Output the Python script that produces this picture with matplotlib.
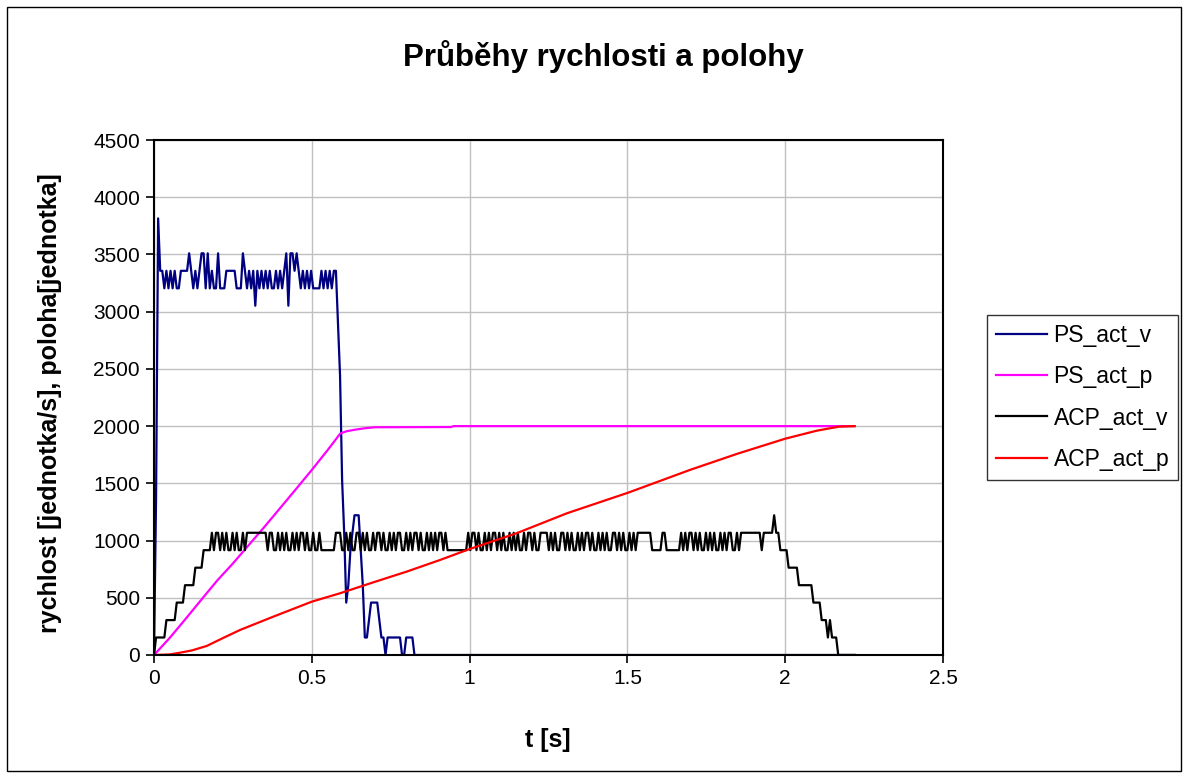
import numpy as np
import matplotlib
matplotlib.use("Agg")
import matplotlib.pyplot as plt
from matplotlib.patches import Rectangle

plt.rcParams['font.family'] = ['Liberation Sans', 'DejaVu Sans']

# ---------------- data ----------------
SAMPLE_DT = 0.00655  # s, sampling period of the velocity records

# PS_act_v  [jednotka/s], one value per sample
PS_ACT_V = [
    0, 1373, 3815, 3357, 3357, 3204, 3357, 3204, 3357, 3204,
    3357, 3204, 3204, 3357, 3357, 3357, 3357, 3510, 3357, 3204,
    3357, 3204, 3357, 3510, 3510, 3204, 3510, 3204, 3357, 3204,
    3204, 3510, 3204, 3204, 3204, 3357, 3357, 3357, 3357, 3357,
    3204, 3204, 3204, 3510, 3357, 3204, 3357, 3204, 3357, 3052,
    3357, 3204, 3357, 3204, 3357, 3204, 3357, 3204, 3204, 3357,
    3204, 3357, 3204, 3357, 3510, 3052, 3510, 3510, 3357, 3510,
    3357, 3204, 3357, 3204, 3357, 3204, 3357, 3204, 3204, 3204,
    3204, 3357, 3204, 3357, 3204, 3357, 3204, 3357, 3357, 2899,
    2442, 1526, 1068, 458, 610, 916, 1068, 1221, 1221, 1221,
    916, 610, 153, 153, 305, 458, 458, 458, 458, 305,
    153, 153, 0, 153, 153, 153, 153, 153, 153, 153,
    0, 0, 153, 153, 153, 153, 0, 0, 0, 0,
] + [0] * 210

# ACP_act_v  [jednotka/s], one value per sample
ACP_ACT_V = [
    0, 153, 153, 153, 153, 153, 305, 305, 305, 305,
    305, 458, 458, 458, 458, 610, 610, 610, 610, 610,
    763, 763, 763, 763, 916, 916, 916, 916,
    1068, 916, 1068, 1068, 916, 1068, 916, 1068, 916, 916,
    1068, 916, 1068, 916, 916, 1068, 916, 1068, 1068,
    1068, 1068, 1068, 1068, 1068, 1068, 1068, 1068,
    916, 1068, 1068, 916, 916, 1068, 916, 1068, 916, 1068,
    916, 916, 1068, 916, 1068, 916, 1068, 1068, 916, 1068,
    916, 916, 1068, 916, 916, 1068, 916,
    916, 916, 916, 916, 916, 916,
    1068, 1068, 1068, 916, 916,
    1068, 916, 1068, 916, 916, 1068, 1068, 916, 1068, 916,
    1068, 916, 916, 1068, 916, 1068, 1068, 916, 1068, 916,
    916, 1068, 916, 1068, 916, 1068, 1068, 916, 916, 1068,
    916, 1068, 916, 1068, 1068, 916, 1068, 916, 916, 1068,
    916, 1068, 916, 1068, 916, 1068, 1068, 916, 1068, 916,
    916, 916, 916, 916, 916, 916, 916, 916, 916,
    1068, 916, 1068, 1068, 916, 1068, 916, 916, 1068, 916,
    1068, 916, 1068, 1068, 916, 1068, 916, 1068, 916, 916,
    1068, 916, 1068, 916, 1068, 916, 916, 1068, 916, 1068,
    1068, 916, 1068, 916, 916,
    1068, 1068, 1068, 1068,
    916, 1068, 916, 1068, 916, 916, 1068, 1068, 916, 1068,
    916, 1068, 916, 916, 1068, 916, 1068, 916, 1068, 1068,
    916, 1068, 916, 916, 1068, 916, 1068, 916, 1068, 916,
    916, 1068, 1068, 916, 1068, 916, 1068, 916, 916, 1068,
    916, 1068, 916,
    1068, 1068, 1068, 1068, 1068, 1068, 1068,
    916, 916, 916, 916, 916,
    1068, 1068,
    916, 916, 916, 916, 916, 916,
    916, 1068,
    916, 1068, 916, 1068, 1068, 916, 1068, 916, 1068, 916,
    916, 1068, 916, 1068, 916, 1068, 916, 916, 1068, 916,
    1068, 916, 1068, 1068, 916, 916, 1068, 916, 1068, 1068,
    1068, 1068, 1068, 1068, 1068, 1068, 1068, 1068,
    916, 1068, 1068, 1068, 1068, 1068,
    1221, 1068, 1068, 916, 916, 916, 916,
    763, 763, 763, 763, 763,
    610, 610, 610, 610, 610, 610, 610,
    458, 458, 458, 458,
    305, 305, 305, 153, 305, 153, 153, 153,
    0, 0, 0, 0, 0, 0, 0, 0, 0,
]

# PS_act_p  [jednotka]
PS_P_T = [0.0, 0.05, 0.10, 0.155, 0.20, 0.25, 0.30, 0.35, 0.40, 0.45, 0.50,
          0.55, 0.575, 0.59, 0.61, 0.64, 0.67, 0.70, 0.94, 0.95, 2.22]
PS_P = [0, 150, 315, 500, 650, 800, 960, 1120, 1285, 1450, 1617,
        1790, 1880, 1935, 1955, 1970, 1982, 1990, 1992, 2000, 2000]

# ACP_act_p  [jednotka]
ACP_P_T = [0.0, 0.05, 0.082, 0.12, 0.167, 0.22, 0.272, 0.378, 0.50, 0.589,
           0.695, 0.80, 0.906, 1.0, 1.149, 1.308, 1.503, 1.698, 1.85, 2.0,
           2.10, 2.17, 2.22]
ACP_P = [0, 5, 20, 40, 79, 150, 218, 335, 466, 539,
         635, 728, 830, 926, 1064, 1238, 1419, 1617, 1760, 1890,
         1960, 1995, 2000]

SERIES_NAMES = ['PS_act_v', 'PS_act_p', 'ACP_act_v', 'ACP_act_p']
SERIES_COLORS = ['#000080', '#FF00FF', '#000000', '#FF0000']

X_TICKS = [0, 0.5, 1, 1.5, 2, 2.5]
X_TICK_LABELS = ['0', '0.5', '1', '1.5', '2', '2.5']
Y_TICKS = [0, 500, 1000, 1500, 2000, 2500, 3000, 3500, 4000, 4500]

# ---------------- figure ----------------
W, H = 1188, 778
fig = plt.figure(figsize=(W / 100, H / 100), dpi=100)
fig.patch.set_facecolor('white')

# chart-area border
fig.add_artist(Rectangle((7 / W, 7 / H), (1181 - 7) / W, (771 - 7) / H,
                         transform=fig.transFigure, fill=False,
                         edgecolor='black', lw=1.0))

ax = fig.add_axes([154 / W, 1 - 655 / H, (943 - 154) / W, (655 - 140) / H])

t_ps = np.arange(len(PS_ACT_V)) * SAMPLE_DT
t_acp = np.arange(len(ACP_ACT_V)) * SAMPLE_DT

lw = 1.6
ax.plot(t_ps, PS_ACT_V, color=SERIES_COLORS[0], lw=lw, label=SERIES_NAMES[0])
ax.plot(PS_P_T, PS_P, color=SERIES_COLORS[1], lw=lw, label=SERIES_NAMES[1])
ax.plot(t_acp, ACP_ACT_V, color=SERIES_COLORS[2], lw=lw, label=SERIES_NAMES[2])
ax.plot(ACP_P_T, ACP_P, color=SERIES_COLORS[3], lw=lw, label=SERIES_NAMES[3])

ax.set_xlim(0, 2.5)
ax.set_ylim(0, 4500)
ax.set_xticks(X_TICKS)
ax.set_xticklabels(X_TICK_LABELS)
ax.set_yticks(Y_TICKS)
ax.grid(True, color='#C0C0C0', lw=1.0)
ax.set_axisbelow(True)
for s in ax.spines.values():
    s.set_color('black')
    s.set_linewidth(1.5)
ax.tick_params(axis='both', direction='out', length=6, width=1.2,
               labelsize=15, colors='black', pad=4)

ax.set_xlabel('t [s]', fontsize=18, fontweight='bold')
ax.set_ylabel('rychlost [jednotka/s], poloha[jednotka]', fontsize=18,
              fontweight='bold')
ax.xaxis.set_label_coords((548 - 154) / 789, (655 - 740) / 515)
ax.yaxis.set_label_coords((50 - 154) / 789, 0.49)
ax.xaxis.label.set_va('center')
ax.yaxis.label.set_va('center')

fig.text(603 / W, 1 - 57 / H, 'Průběhy rychlosti a polohy', ha='center',
         va='center', fontsize=22.5, fontweight='bold')

leg = ax.legend(loc='lower left', bbox_to_anchor=(987 / W, 1 - 480 / H),
                bbox_transform=fig.transFigure, fontsize=16.5, frameon=True,
                fancybox=False, borderaxespad=0, handlelength=2.2,
                handletextpad=0.3, labelspacing=0.8, borderpad=0.4)
leg.get_frame().set_edgecolor('black')
leg.get_frame().set_linewidth(1.0)

fig.savefig('out.png', dpi=100)
